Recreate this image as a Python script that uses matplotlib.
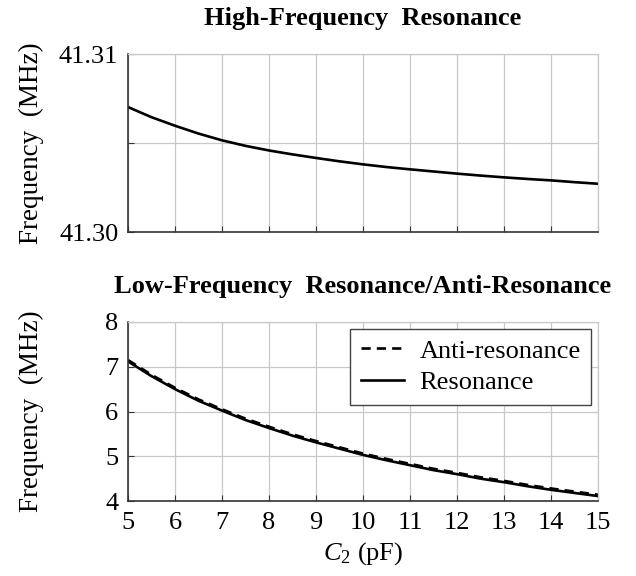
import matplotlib
matplotlib.use('Agg')
import matplotlib.pyplot as plt

plt.rcParams['font.family'] = ['Liberation Serif', 'DejaVu Serif']
plt.rcParams['mathtext.fontset'] = 'custom'
plt.rcParams['mathtext.rm'] = 'Liberation Serif'
plt.rcParams['mathtext.it'] = 'Liberation Serif:italic'

# C2 values (pF)
c2 = [5, 5.5, 6, 6.5, 7, 7.5, 8, 8.5, 9, 9.5, 10,
      10.5, 11, 11.5, 12, 12.5, 13, 13.5, 14, 14.5, 15]

# high-frequency resonance (MHz)
hf_res = [41.30702, 41.30645, 41.30597, 41.30553, 41.30515, 41.30484, 41.30458,
          41.30436, 41.30416, 41.30397, 41.30380, 41.30365, 41.30352, 41.30340,
          41.30328, 41.30317, 41.30307, 41.30298, 41.30290, 41.30280, 41.30271]

# low-frequency resonance / anti-resonance (MHz)
lf_res = [7.12, 6.79, 6.50, 6.24, 6.02, 5.81, 5.63, 5.46, 5.31, 5.17, 5.03,
          4.91, 4.80, 4.69, 4.60, 4.50, 4.42, 4.33, 4.25, 4.18, 4.11]
lf_anti = [7.15, 6.82, 6.53, 6.27, 6.05, 5.84, 5.66, 5.49, 5.34, 5.20, 5.06,
           4.94, 4.83, 4.72, 4.63, 4.53, 4.45, 4.36, 4.28, 4.21, 4.14]

xticks = list(range(5, 16))

fig = plt.figure(figsize=(6.36, 5.76), dpi=100)
ax1 = fig.add_axes([128/636, 1-232/576, 470/636, 178/576])
ax2 = fig.add_axes([128/636, 1-501/576, 470/636, 179/576])

def style(ax):
    ax.set_xlim(5, 15)
    ax.set_xticks(xticks)
    ax.grid(True, color='#c8c8c8', lw=0.9)
    ax.set_axisbelow(True)
    for s in ['top', 'right']:
        ax.spines[s].set_color('#c8c8c8')
        ax.spines[s].set_linewidth(0.9)
    for s in ['left', 'bottom']:
        ax.spines[s].set_color('#333333')
        ax.spines[s].set_linewidth(1.2)
    ax.tick_params(direction='in', length=4, color='#333333', labelsize=19, pad=8)
    ax.tick_params(axis='y', pad=7)

style(ax1)
ax1.plot(c2, hf_res, color='black', lw=1.9)
ax1.set_ylim(41.30, 41.31)
ax1.set_yticks([41.30, 41.305, 41.31])
ax1.set_yticklabels(['41.30', '', '41.31'])
ax1.set_xticklabels([])
ax1.set_ylabel('Frequency  (MHz)', fontsize=19.5)
ax1.set_title('High-Frequency  Resonance', fontsize=19, fontweight='bold', pad=21)

style(ax2)
ax2.plot(c2, lf_anti, color='black', lw=1.9, ls=(0, (3.5, 2.3)), label='Anti-resonance')
ax2.plot(c2, lf_res, color='black', lw=1.9, label='Resonance')
ax2.set_ylim(4, 8)
ax2.set_yticks([4, 5, 6, 7, 8])
ax2.set_ylabel('Frequency  (MHz)', fontsize=19.5)
ax2.set_xlabel('$C_2$ (pF)', fontsize=19, labelpad=4)
ax2.set_title('Low-Frequency  Resonance/Anti-Resonance', fontsize=19, fontweight='bold', pad=21)
leg = ax2.legend(loc='upper right', fontsize=19, fancybox=False, framealpha=1,
                 edgecolor='#444444', handlelength=1.63, borderpad=0.4,
                 labelspacing=0.3, handletextpad=0.6, borderaxespad=0.25)
leg.get_frame().set_linewidth(1.0)

ax1.yaxis.set_label_coords(-0.179, 0.5)
ax2.yaxis.set_label_coords(-0.179, 0.5)

fig.savefig('out.png', dpi=100)
